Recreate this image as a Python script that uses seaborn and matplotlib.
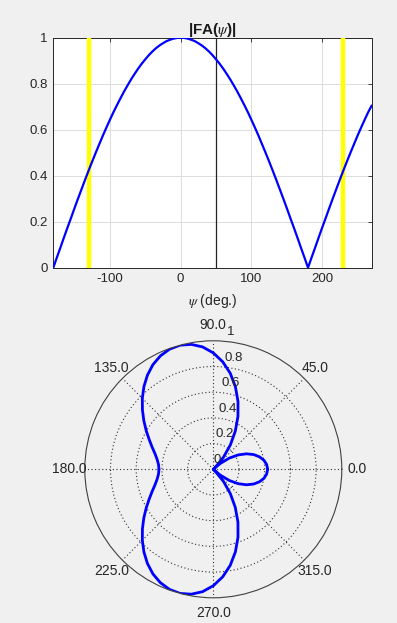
import numpy as np
import pandas as pd
import matplotlib
matplotlib.use("Agg")
import matplotlib.pyplot as plt
import seaborn as sns

# ---------------- data ----------------
psi_deg = list(range(-180, 275, 5))
fa_mag = [0.000, 0.044, 0.087, 0.131, 0.174, 0.216, 0.259, 0.301, 0.342, 0.383,
          0.423, 0.462, 0.500, 0.537, 0.574, 0.609, 0.643, 0.676, 0.707, 0.737,
          0.766, 0.793, 0.819, 0.843, 0.866, 0.887, 0.906, 0.924, 0.940, 0.954,
          0.966, 0.976, 0.985, 0.991, 0.996, 0.999, 1.000,
          0.999, 0.996, 0.991, 0.985, 0.976, 0.966, 0.954, 0.940, 0.924, 0.906,
          0.887, 0.866, 0.843, 0.819, 0.793, 0.766, 0.737, 0.707, 0.676, 0.643,
          0.609, 0.574, 0.537, 0.500, 0.462, 0.423, 0.383, 0.342, 0.301, 0.259,
          0.216, 0.174, 0.131, 0.087, 0.044, 0.000,
          0.044, 0.087, 0.131, 0.174, 0.216, 0.259, 0.301, 0.342, 0.383, 0.423,
          0.462, 0.500, 0.537, 0.574, 0.609, 0.643, 0.676, 0.705]

visible_edges = [-130, 230]      # yellow lines
progressive_phase = [50]         # black line

theta_deg = [0, 5, 10, 15, 20, 25, 30, 35, 40, 44, 45, 50, 55, 60, 65, 70, 75,
             80, 85, 90, 95, 100, 105, 110, 115, 120, 125, 130, 135, 140,
             145, 150, 155, 160, 165, 170, 175, 180]
pattern_r = [0.423, 0.417, 0.401, 0.373, 0.335, 0.285, 0.224, 0.152, 0.069, 0.000,
             0.024, 0.124, 0.231, 0.342, 0.454, 0.562, 0.665, 0.759, 0.840, 0.906,
             0.956, 0.987, 1.000, 0.995, 0.974, 0.940, 0.894, 0.840, 0.781, 0.720,
             0.660, 0.603, 0.551, 0.507, 0.470, 0.444, 0.428, 0.423]

x_ticks = [-100, 0, 100, 200]
y_ticks = [0, 0.2, 0.4, 0.6, 0.8, 1.0]
y_ticklabels = ["0", "0.2", "0.4", "0.6", "0.8", "1"]
r_ticks = [0, 0.2, 0.4, 0.6, 0.8, 1.0]
r_ticklabels = ["0", "0.2", "0.4", "0.6", "0.8", "1"]
ang_ticks = [0, 45, 90, 135, 180, 225, 270, 315]
ang_ticklabels = ["0.0", "45.0", "90.0", "135.0", "180.0", "225.0", "270.0", "315.0"]

# ---------------- style ----------------
sns.set_style("white")
plt.rcParams['font.family'] = ['Liberation Sans', 'DejaVu Sans']
plt.rcParams['mathtext.fontset'] = 'stix'
plt.rcParams['axes.unicode_minus'] = False

W, H = 397, 623
fig = plt.figure(figsize=(W / 100, H / 100), dpi=100, facecolor="#f0f0f0")

def box(l, t, r, b):
    return [l / W, 1 - b / H, (r - l) / W, (b - t) / H]

# ---------------- top plot ----------------
ax = fig.add_axes(box(53.3, 37.7, 371.7, 267.7))
ax.set_facecolor("white")
df = pd.DataFrame({"psi": psi_deg, "fa": fa_mag})
for xv in visible_edges:
    ax.axvline(xv, color=(1, 1, 0), lw=3.2, zorder=3)
for xv in progressive_phase:
    ax.axvline(xv, color="#222222", lw=0.9, zorder=3)
sns.lineplot(data=df, x="psi", y="fa", ax=ax, color=(0, 0, 1), lw=1.6,
             estimator=None, sort=False, zorder=4)
ax.set_xlim(-180, 270)
ax.set_ylim(0, 1)
ax.set_xticks(x_ticks)
ax.set_yticks(y_ticks)
ax.set_yticklabels(y_ticklabels)
ax.grid(True, color="#dcdcdc", lw=0.7)
ax.set_axisbelow(True)
ax.tick_params(direction="in", length=3, width=0.6, colors="#262626",
               labelsize=9.5, top=True, right=True, pad=4)
for s in ax.spines.values():
    s.set_color("#262626")
    s.set_linewidth(0.7)
ax.set_title(r"|FA($\psi$)|", fontsize=11, fontweight="bold", color="#1a1a1a", pad=3)
ax.set_xlabel(r"$\psi$ (deg.)", fontsize=10, color="#262626", labelpad=5)
ax.set_ylabel("")

# ---------------- polar plot ----------------
cx, cy, R = 213.3, 469.3, 128.5
pax = fig.add_axes(box(cx - R, cy - R, cx + R, cy + R), projection="polar")
pax.set_facecolor("none")
th = np.deg2rad(theta_deg)
dfp1 = pd.DataFrame({"theta": th, "r": pattern_r})
dfp2 = pd.DataFrame({"theta": -th, "r": pattern_r})
sns.lineplot(data=dfp1, x="theta", y="r", ax=pax, color=(0, 0, 1), lw=2.0,
             estimator=None, sort=False)
sns.lineplot(data=dfp2, x="theta", y="r", ax=pax, color=(0, 0, 1), lw=2.0,
             estimator=None, sort=False)
pax.set_xlabel("")
pax.set_ylabel("")
pax.set_rlim(0, 1)
pax.set_thetagrids(ang_ticks, labels=[""] * len(ang_ticks))
pax.set_rgrids(r_ticks[1:-1], labels=[""] * (len(r_ticks) - 2))
pax.grid(True, color="#303030", lw=0.8, linestyle=(0, (1, 2.2)))
pax.spines["polar"].set_color("#404040")
pax.spines["polar"].set_linewidth(0.8)
pax.tick_params(length=0)

for a, lab in zip(ang_ticks, ang_ticklabels):
    pax.text(np.deg2rad(a), 1.12, lab, ha="center", va="center",
             fontsize=10, color="#262626")
for rv, lab in zip(r_ticks, r_ticklabels):
    pax.annotate(lab, xy=(np.deg2rad(84), rv), xytext=(0, 2.5),
                 textcoords="offset points", ha="left", va="bottom",
                 fontsize=9.5, color="#262626", annotation_clip=False)

fig.savefig("out.png", dpi=100, facecolor=fig.get_facecolor())
